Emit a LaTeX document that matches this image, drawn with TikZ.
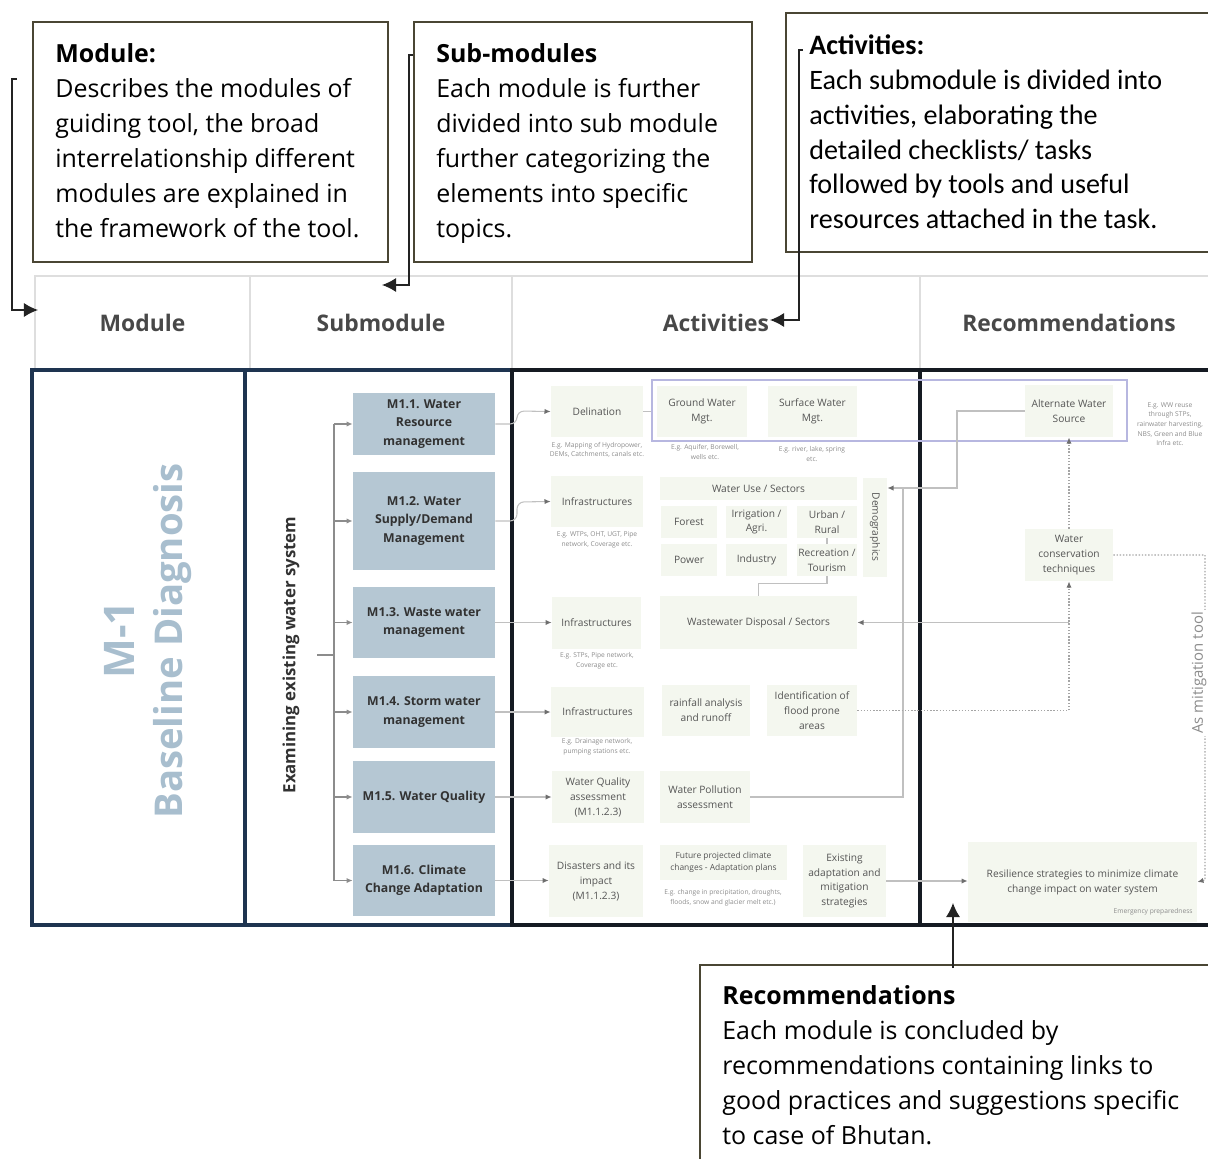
\documentclass[tikz,border=0pt]{standalone}
\usepackage{fontspec}
\setmainfont{Open Sans}
\newfontfamily\calibfont{Carlito}
\usetikzlibrary{arrows.meta}

\definecolor{olivebrd}{RGB}{74,70,52}
\definecolor{hdrline}{RGB}{222,222,222}
\definecolor{navy}{RGB}{30,52,80}
\definecolor{inkblack}{RGB}{21,26,34}
\definecolor{subfill}{RGB}{181,199,211}
\definecolor{subtext}{RGB}{50,50,50}
\definecolor{actfill}{RGB}{244,247,239}
\definecolor{acttext}{RGB}{85,85,85}
\definecolor{captext}{RGB}{140,140,140}
\definecolor{lavender}{RGB}{183,183,224}
\definecolor{connclr}{RGB}{192,192,192}
\definecolor{dotclr}{RGB}{165,165,165}
\definecolor{tipclr}{RGB}{110,110,110}
\definecolor{titleblue}{RGB}{168,190,206}
\definecolor{hdrtext}{RGB}{72,72,72}
\definecolor{calloutline}{RGB}{35,35,35}
\definecolor{treeclr}{RGB}{140,140,140}

% box given by its corners in pixel units: style, name, x1, y1, x2, y2, text
\newcommand\pxbox[7]{%
  \node[#1, minimum width={(#5-#3)*0.02cm}, minimum height={(#6-#4)*0.02cm}]
    (#2) at ({(#3+#5)/2},{(#4+#6)/2}) {#7};}

\tikzset{
  callbox/.style={draw=olivebrd, line width=1.7pt, inner sep=0pt},
  calltext/.style={align=left, inner sep=0pt, anchor=north west,
    font=\fontsize{14.2pt}{19.9pt}\selectfont, text=black},
  hdrcell/.style={draw=hdrline, line width=0.6pt, inner sep=0pt,
    font=\fontsize{13pt}{16pt}\selectfont\bfseries, text=hdrtext},
  navycol/.style={draw=navy, line width=2.3pt, inner sep=0pt},
  inkcol/.style={draw=inkblack, line width=2.3pt, inner sep=0pt},
  subbox/.style={fill=subfill, inner sep=0pt, align=center,
    font=\fontsize{7pt}{10.3pt}\selectfont\bfseries, text=subtext},
  actbox/.style={fill=actfill, inner sep=0pt, align=center,
    font=\fontsize{5.8pt}{8.5pt}\selectfont, text=acttext},
  actsmall/.style={actbox, font=\fontsize{4.8pt}{7pt}\selectfont},
  lavbox/.style={draw=lavender, line width=1.1pt, inner sep=0pt},
  capt/.style={inner sep=0pt, align=center,
    font=\fontsize{3.8pt}{5.5pt}\selectfont, text=captext},
  callarrow/.style={draw=calloutline, line width=0.7pt,
    -{Latex[length=8pt,width=8pt]}},
  treeline/.style={draw=treeclr, line width=0.6pt},
  treearrow/.style={treeline, -{Latex[length=3.5pt,width=3pt]}},
  conn/.style={draw=connclr, line width=0.6pt},
  connarrow/.style={conn, -{Latex[length=3.5pt,width=3pt,color=tipclr]}},
  dotarrow/.style={draw=dotclr, line width=0.8pt, densely dotted,
    -{Latex[length=3.5pt,width=3pt,color=tipclr]}},
}

\begin{document}
\begin{tikzpicture}[x=0.02cm, y=-0.02cm]
\useasboundingbox (0,0) rectangle (1208,1159);
\clip (0,0) rectangle (1208,1159);

% ---- header row ----
\pxbox{hdrcell}{hmod}{35}{276}{250}{370}{Module}
\pxbox{hdrcell}{hsub}{250}{276}{512}{370}{Submodule}
\pxbox{hdrcell}{hact}{512}{276}{920}{370}{Activities}
\pxbox{hdrcell}{hrec}{920}{276}{1218}{370}{Recommendations}

% ---- body columns ----
\pxbox{navycol}{bmod}{32}{370}{245}{925}{}
\pxbox{navycol}{bsub}{245}{370}{512}{925}{}
\pxbox{inkcol}{bact}{512}{370}{920}{925}{}
\pxbox{inkcol}{brec}{920}{370}{1218}{925}{}

% ---- module title ----
\node[font=\fontsize{24pt}{26pt}\selectfont\bfseries, text=titleblue, rotate=90, inner sep=0pt] (m1a) at (119,640) {M-1};
\node[font=\fontsize{21.8pt}{26pt}\selectfont\bfseries, text=titleblue, rotate=90, inner sep=0pt] (m1b) at (173,641) {Baseline Diagnosis};

% ---- submodules ----
\node[font=\fontsize{9.6pt}{11pt}\selectfont\bfseries, text=subtext, rotate=90, inner sep=0pt] (exam) at (291,655) {Examining existing water system};
\pxbox{subbox}{s11}{353}{393}{495}{455}{M1.1. Water\\Resource\\management}
\pxbox{subbox}{s12}{353}{472}{495}{570}{M1.2. Water\\Supply/Demand\\Management}
\pxbox{subbox}{s13}{353}{587}{495}{658}{M1.3. Waste water\\management}
\pxbox{subbox}{s14}{353}{676}{495}{748}{M1.4. Storm water\\management}
\pxbox{subbox}{s15}{353}{761}{495}{833}{M1.5. Water Quality}
\pxbox{subbox}{s16}{353}{845}{495}{916}{M1.6. Climate\\Change Adaptation}

\coordinate (tstub) at (317,655);
\coordinate (trunk) at (334,655);
\draw[treeline] (tstub) -- (trunk);
\draw[treeline] (trunk |- s11.west) -- (trunk |- s16.west);
\foreach \s in {s11,s12,s13,s14,s15,s16}
  \draw[treearrow] (trunk |- \s.west) -- (\s.west);

% ---- activities ----
\pxbox{actbox}{a11}{551}{386}{643}{437}{Delination}
\node[capt] (c11) at (597,450) {E.g. Mapping of Hydropower,\\DEMs, Catchments, canals etc.};
\pxbox{lavbox}{lavr}{652}{380}{1127}{441}{}
\pxbox{actbox}{a12}{657}{386}{747}{437}{Ground Water\\Mgt.}
\node[capt] (c12) at (705,452) {E.g. Aquifer, Borewell,\\wells etc.};
\pxbox{actbox}{a13}{768}{386}{857}{437}{Surface Water\\Mgt.}
\node[capt] (c13) at (812,454) {E.g. river, lake, spring\\etc.};

\pxbox{actbox}{a21}{551}{476}{643}{527}{Infrastructures}
\node[capt] (c21) at (597,540) {E.g. WTPs, OHT, UGT, Pipe\\network, Coverage etc.};
\pxbox{actbox}{a2ws}{660}{477}{857}{500}{Water Use / Sectors}
\pxbox{actbox}{a2fo}{661}{506}{717}{538}{Forest}
\pxbox{actbox}{a2ir}{726}{506}{787}{538}{Irrigation /\\Agri.}
\pxbox{actbox}{a2ur}{797}{506}{857}{538}{Urban /\\Rural}
\pxbox{actbox}{a2po}{661}{544}{717}{576}{Power}
\pxbox{actbox}{a2in}{726}{544}{787}{576}{Industry}
\pxbox{actbox}{a2rt}{797}{544}{857}{576}{Recreation /\\Tourism}
\node[actbox, rotate=-90, minimum width={99*0.02cm}, minimum height={24*0.02cm}] (a2dem) at (875,527) {Demographics};

\pxbox{actbox}{a31}{552}{597}{641}{649}{Infrastructures}
\node[capt] (c31) at (597,661) {E.g. STPs, Pipe network,\\Coverage etc.};
\pxbox{actbox}{a3ww}{660}{596}{857}{649}{Wastewater Disposal / Sectors}

\pxbox{actbox}{a41}{551}{687}{644}{737}{Infrastructures}
\node[capt] (c41) at (597,747) {E.g. Drainage network,\\pumping stations etc.};
\pxbox{actbox}{a4rf}{662}{685}{750}{736}{rainfall analysis\\and runoff}
\pxbox{actbox}{a4fl}{767}{685}{857}{736}{Identification of\\flood prone\\areas}

\pxbox{actbox}{a51}{552}{771}{644}{823}{Water Quality\\assessment\\(M1.1.2.3)}
\pxbox{actbox}{a5wp}{660}{771}{750}{823}{Water Pollution\\assessment}

\pxbox{actbox}{a61}{549}{845}{643}{917}{Disasters and its\\impact\\(M1.1.2.3)}
\pxbox{actsmall}{a6fu}{660}{845}{787}{880}{Future projected climate\\changes - Adaptation plans}
\node[capt] (c6fu) at (723,898) {E.g. change in precipitation, droughts,\\floods, snow and glacier melt etc.)};
\pxbox{actbox}{a6ex}{803}{845}{886}{917}{Existing\\adaptation and\\mitigation\\strategies}

% ---- recommendations ----
\pxbox{actbox}{r1alt}{1025}{385}{1113}{437}{Alternate Water\\Source}
\node[capt] (c1alt) at (1170,424) {E.g. WW reuse\\through STPs,\\rainwater harvesting,\\NBS, Green and Blue\\Infra etc.};
\pxbox{actbox}{r2wc}{1025}{529}{1113}{581}{Water\\conservation\\techniques}
\pxbox{actbox}{r3res}{968}{842}{1197}{922}{Resilience strategies to minimize climate\\change impact on water system}
\node[capt, anchor=east] (c3res) at (1193,912) {Emergency preparedness};

% ---- connectors from submodules to activities ----
\draw[connarrow, rounded corners=4] (s11.east) -- (517,424) -- (517,411) -- (a11.west);
\draw[connarrow, rounded corners=4] (s12.east) -- (517,521) -- (517,502) -- (a21.west);
\draw[connarrow] (s13.east) -- (s13.east -| a31.west);
\draw[connarrow] (s14.east) -- (s14.east -| a41.west);
\draw[connarrow] (s15.east) -- (s15.east -| a51.west);
\draw[connarrow] (s16.east) -- (s16.east -| a61.west);

% ---- links inside activities and recommendations ----
\draw[conn] (a11.east) -- (a11.east -| lavr.west);
\draw[conn] (a2ur.south) -- (a2rt.north);
\draw[conn] (a2rt.south) -- ++(0,7) -| (a3ww.north);
\coordinate (jx) at (903,488);
\coordinate (jy) at (957,488);
\draw[connarrow] (a5wp.east) -| (jx) -- (a2dem.north |- jx);
\draw[conn] (jx) -- (jy) |- (r1alt.west);
\draw[connarrow] (r2wc.south |- a3ww.east) -- (a3ww.east);
\draw[dotarrow] (a4fl.east) -| (r2wc.south);
\draw[dotarrow] (r2wc.north) -- (r1alt.south);
\coordinate (mitc) at (1205,880);
\draw[dotarrow] (r2wc.east) -| (mitc) -- (r3res.east);
\node[fill=white, rotate=90, inner sep=1pt, font=\fontsize{8.5pt}{10pt}\selectfont, text=captext] (mitl) at (1199,673) {As mitigation tool};
\draw[connarrow] (a6ex.east) -- (a6ex.east -| r3res.west);

% ---- callouts ----
\pxbox{callbox}{cmod}{33}{22}{388}{262}{}
\node[calltext] (cmodt) at (55,43) {\textbf{Module:}\\Describes the modules of\\guiding tool, the broad\\interrelationship different\\modules are explained in\\the framework of the tool.};
\pxbox{callbox}{csub}{414}{22}{752}{262}{}
\node[calltext] (csubt) at (436,43) {\textbf{Sub-modules}\\Each module is further\\divided into sub module\\further categorizing the\\elements into specific\\topics.};
\pxbox{callbox}{cact}{786}{13}{1222}{252}{}
\node[calltext, font=\calibfont\fontsize{16pt}{19.9pt}\selectfont] (cactt) at (809,34) {\textbf{Activities:}\\Each submodule is divided into\\activities, elaborating the\\detailed checklists/ tasks\\followed by tools and useful\\resources attached in the task.};
\pxbox{callbox}{crec}{700}{965}{1222}{1175}{}
\node[calltext] (crect) at (722,985) {\textbf{Recommendations}\\Each module is concluded by\\recommendations containing links to\\good practices and suggestions specific\\to case of Bhutan.};

% ---- callout pointers ----
\coordinate (modsrc) at (17,79);
\coordinate (modtip) at (38,310);
\draw[callarrow] (modsrc) -- ++(-5,0) |- (modtip);
\coordinate (subsrc) at (413,55);
\coordinate (subtip) at (382,285);
\draw[callarrow] (subsrc) -- ++(-4,0) |- (subtip);
\coordinate (actsrc) at (803,50);
\coordinate (acttip) at (770,320);
\draw[callarrow] (actsrc) -- ++(-4,0) |- (acttip);
\coordinate (recsrc) at (953,968);
\coordinate (rectip) at (953,903);
\draw[callarrow] (recsrc) -- (rectip);
\end{tikzpicture}
\end{document}
